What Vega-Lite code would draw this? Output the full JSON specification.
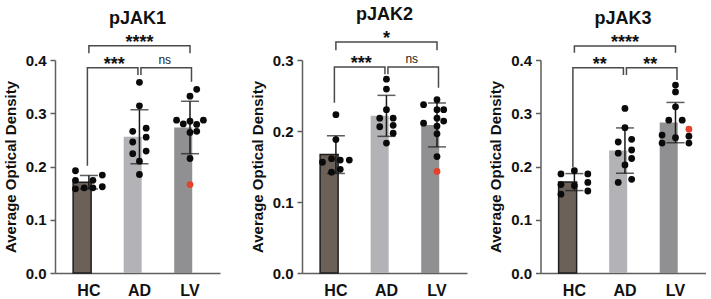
{
  "$schema": "https://vega.github.io/schema/vega-lite/v6.json",
  "padding": {"left": 3, "top": 5, "right": 2, "bottom": 2},
  "datasets": {
    "dots": [
      {"panel": "pJAK1", "group": "HC", "value": 0.192, "lane": -2, "marker": "regular"},
      {"panel": "pJAK1", "group": "HC", "value": 0.184, "lane": 2, "marker": "regular"},
      {"panel": "pJAK1", "group": "HC", "value": 0.174, "lane": -2, "marker": "regular"},
      {"panel": "pJAK1", "group": "HC", "value": 0.174, "lane": 0.6, "marker": "regular"},
      {"panel": "pJAK1", "group": "HC", "value": 0.158, "lane": -2, "marker": "regular"},
      {"panel": "pJAK1", "group": "HC", "value": 0.160, "lane": -0.7, "marker": "regular"},
      {"panel": "pJAK1", "group": "HC", "value": 0.160, "lane": 0.6, "marker": "regular"},
      {"panel": "pJAK1", "group": "HC", "value": 0.162, "lane": 2, "marker": "regular"},
      {"panel": "pJAK1", "group": "AD", "value": 0.358, "lane": 0, "marker": "regular"},
      {"panel": "pJAK1", "group": "AD", "value": 0.314, "lane": 0, "marker": "regular"},
      {"panel": "pJAK1", "group": "AD", "value": 0.266, "lane": -1, "marker": "regular"},
      {"panel": "pJAK1", "group": "AD", "value": 0.272, "lane": 1, "marker": "regular"},
      {"panel": "pJAK1", "group": "AD", "value": 0.246, "lane": -1, "marker": "regular"},
      {"panel": "pJAK1", "group": "AD", "value": 0.255, "lane": 1, "marker": "regular"},
      {"panel": "pJAK1", "group": "AD", "value": 0.224, "lane": -1, "marker": "regular"},
      {"panel": "pJAK1", "group": "AD", "value": 0.229, "lane": 1, "marker": "regular"},
      {"panel": "pJAK1", "group": "AD", "value": 0.210, "lane": 0, "marker": "regular"},
      {"panel": "pJAK1", "group": "AD", "value": 0.185, "lane": 0, "marker": "regular"},
      {"panel": "pJAK1", "group": "LV", "value": 0.345, "lane": 1, "marker": "regular"},
      {"panel": "pJAK1", "group": "LV", "value": 0.332, "lane": 0, "marker": "regular"},
      {"panel": "pJAK1", "group": "LV", "value": 0.287, "lane": -2, "marker": "regular"},
      {"panel": "pJAK1", "group": "LV", "value": 0.287, "lane": 2, "marker": "regular"},
      {"panel": "pJAK1", "group": "LV", "value": 0.280, "lane": -1, "marker": "regular"},
      {"panel": "pJAK1", "group": "LV", "value": 0.285, "lane": 0, "marker": "regular"},
      {"panel": "pJAK1", "group": "LV", "value": 0.279, "lane": 1, "marker": "regular"},
      {"panel": "pJAK1", "group": "LV", "value": 0.264, "lane": 0, "marker": "regular"},
      {"panel": "pJAK1", "group": "LV", "value": 0.266, "lane": 1, "marker": "regular"},
      {"panel": "pJAK1", "group": "LV", "value": 0.215, "lane": 0, "marker": "regular"},
      {"panel": "pJAK1", "group": "LV", "value": 0.166, "lane": 0, "marker": "outlier"},

      {"panel": "pJAK2", "group": "HC", "value": 0.223, "lane": 0, "marker": "regular"},
      {"panel": "pJAK2", "group": "HC", "value": 0.188, "lane": 0, "marker": "regular"},
      {"panel": "pJAK2", "group": "HC", "value": 0.156, "lane": -2, "marker": "regular"},
      {"panel": "pJAK2", "group": "HC", "value": 0.161, "lane": -0.65, "marker": "regular"},
      {"panel": "pJAK2", "group": "HC", "value": 0.159, "lane": 0.65, "marker": "regular"},
      {"panel": "pJAK2", "group": "HC", "value": 0.159, "lane": 2, "marker": "regular"},
      {"panel": "pJAK2", "group": "HC", "value": 0.142, "lane": -0.65, "marker": "regular"},
      {"panel": "pJAK2", "group": "HC", "value": 0.146, "lane": 0.65, "marker": "regular"},
      {"panel": "pJAK2", "group": "AD", "value": 0.273, "lane": 0, "marker": "regular"},
      {"panel": "pJAK2", "group": "AD", "value": 0.259, "lane": 0, "marker": "regular"},
      {"panel": "pJAK2", "group": "AD", "value": 0.230, "lane": 0, "marker": "regular"},
      {"panel": "pJAK2", "group": "AD", "value": 0.218, "lane": -1, "marker": "regular"},
      {"panel": "pJAK2", "group": "AD", "value": 0.218, "lane": 1, "marker": "regular"},
      {"panel": "pJAK2", "group": "AD", "value": 0.206, "lane": -1, "marker": "regular"},
      {"panel": "pJAK2", "group": "AD", "value": 0.208, "lane": 1, "marker": "regular"},
      {"panel": "pJAK2", "group": "AD", "value": 0.197, "lane": 1, "marker": "regular"},
      {"panel": "pJAK2", "group": "AD", "value": 0.183, "lane": 0, "marker": "regular"},
      {"panel": "pJAK2", "group": "LV", "value": 0.244, "lane": 0, "marker": "regular"},
      {"panel": "pJAK2", "group": "LV", "value": 0.237, "lane": -2, "marker": "regular"},
      {"panel": "pJAK2", "group": "LV", "value": 0.230, "lane": 0, "marker": "regular"},
      {"panel": "pJAK2", "group": "LV", "value": 0.230, "lane": 1, "marker": "regular"},
      {"panel": "pJAK2", "group": "LV", "value": 0.218, "lane": 0, "marker": "regular"},
      {"panel": "pJAK2", "group": "LV", "value": 0.214, "lane": 1, "marker": "regular"},
      {"panel": "pJAK2", "group": "LV", "value": 0.211, "lane": -2, "marker": "regular"},
      {"panel": "pJAK2", "group": "LV", "value": 0.207, "lane": 0, "marker": "regular"},
      {"panel": "pJAK2", "group": "LV", "value": 0.196, "lane": 0, "marker": "regular"},
      {"panel": "pJAK2", "group": "LV", "value": 0.164, "lane": 0, "marker": "regular"},
      {"panel": "pJAK2", "group": "LV", "value": 0.143, "lane": 0, "marker": "outlier"},

      {"panel": "pJAK3", "group": "HC", "value": 0.192, "lane": 0, "marker": "regular"},
      {"panel": "pJAK3", "group": "HC", "value": 0.186, "lane": -2, "marker": "regular"},
      {"panel": "pJAK3", "group": "HC", "value": 0.186, "lane": 2, "marker": "regular"},
      {"panel": "pJAK3", "group": "HC", "value": 0.166, "lane": -2, "marker": "regular"},
      {"panel": "pJAK3", "group": "HC", "value": 0.164, "lane": 0, "marker": "regular"},
      {"panel": "pJAK3", "group": "HC", "value": 0.170, "lane": 2, "marker": "regular"},
      {"panel": "pJAK3", "group": "HC", "value": 0.148, "lane": -2, "marker": "regular"},
      {"panel": "pJAK3", "group": "HC", "value": 0.154, "lane": 2, "marker": "regular"},
      {"panel": "pJAK3", "group": "AD", "value": 0.309, "lane": 0, "marker": "regular"},
      {"panel": "pJAK3", "group": "AD", "value": 0.273, "lane": 0, "marker": "regular"},
      {"panel": "pJAK3", "group": "AD", "value": 0.246, "lane": -1, "marker": "regular"},
      {"panel": "pJAK3", "group": "AD", "value": 0.251, "lane": 1, "marker": "regular"},
      {"panel": "pJAK3", "group": "AD", "value": 0.225, "lane": -1, "marker": "regular"},
      {"panel": "pJAK3", "group": "AD", "value": 0.231, "lane": 1, "marker": "regular"},
      {"panel": "pJAK3", "group": "AD", "value": 0.215, "lane": 1, "marker": "regular"},
      {"panel": "pJAK3", "group": "AD", "value": 0.203, "lane": 0, "marker": "regular"},
      {"panel": "pJAK3", "group": "AD", "value": 0.170, "lane": -1, "marker": "regular"},
      {"panel": "pJAK3", "group": "AD", "value": 0.176, "lane": 1, "marker": "regular"},
      {"panel": "pJAK3", "group": "LV", "value": 0.353, "lane": 0, "marker": "regular"},
      {"panel": "pJAK3", "group": "LV", "value": 0.340, "lane": 0, "marker": "regular"},
      {"panel": "pJAK3", "group": "LV", "value": 0.312, "lane": 0, "marker": "regular"},
      {"panel": "pJAK3", "group": "LV", "value": 0.287, "lane": -1, "marker": "regular"},
      {"panel": "pJAK3", "group": "LV", "value": 0.287, "lane": 1, "marker": "regular"},
      {"panel": "pJAK3", "group": "LV", "value": 0.270, "lane": 2, "marker": "outlier"},
      {"panel": "pJAK3", "group": "LV", "value": 0.259, "lane": -2, "marker": "regular"},
      {"panel": "pJAK3", "group": "LV", "value": 0.254, "lane": 0, "marker": "regular"},
      {"panel": "pJAK3", "group": "LV", "value": 0.257, "lane": 2, "marker": "regular"},
      {"panel": "pJAK3", "group": "LV", "value": 0.244, "lane": -2, "marker": "regular"},
      {"panel": "pJAK3", "group": "LV", "value": 0.244, "lane": 2, "marker": "regular"}
    ],
    "brackets": [
      {"panel": "pJAK1", "kind": "wide", "seq": 1, "group": "HC", "value": 0.4126},
      {"panel": "pJAK1", "kind": "wide", "seq": 2, "group": "HC", "value": 0.4269},
      {"panel": "pJAK1", "kind": "wide", "seq": 3, "group": "LV", "value": 0.4269},
      {"panel": "pJAK1", "kind": "wide", "seq": 4, "group": "LV", "value": 0.4126},
      {"panel": "pJAK1", "kind": "left", "seq": 1, "group": "HC", "value": 0.2012},
      {"panel": "pJAK1", "kind": "left", "seq": 2, "group": "HC", "value": 0.3855},
      {"panel": "pJAK1", "kind": "left", "seq": 3, "group": "AD", "value": 0.3855},
      {"panel": "pJAK1", "kind": "left", "seq": 4, "group": "AD", "value": 0.3718},
      {"panel": "pJAK1", "kind": "right", "seq": 1, "group": "AD", "value": 0.3718},
      {"panel": "pJAK1", "kind": "right", "seq": 2, "group": "AD", "value": 0.3855},
      {"panel": "pJAK1", "kind": "right", "seq": 3, "group": "LV", "value": 0.3855},
      {"panel": "pJAK1", "kind": "right", "seq": 4, "group": "LV", "value": 0.3592},

      {"panel": "pJAK2", "kind": "wide", "seq": 1, "group": "HC", "value": 0.3137},
      {"panel": "pJAK2", "kind": "wide", "seq": 2, "group": "HC", "value": 0.3255},
      {"panel": "pJAK2", "kind": "wide", "seq": 3, "group": "LV", "value": 0.3255},
      {"panel": "pJAK2", "kind": "wide", "seq": 4, "group": "LV", "value": 0.3137},
      {"panel": "pJAK2", "kind": "left", "seq": 1, "group": "HC", "value": 0.2397},
      {"panel": "pJAK2", "kind": "left", "seq": 2, "group": "HC", "value": 0.2901},
      {"panel": "pJAK2", "kind": "left", "seq": 3, "group": "AD", "value": 0.2901},
      {"panel": "pJAK2", "kind": "left", "seq": 4, "group": "AD", "value": 0.2798},
      {"panel": "pJAK2", "kind": "right", "seq": 1, "group": "AD", "value": 0.2798},
      {"panel": "pJAK2", "kind": "right", "seq": 2, "group": "AD", "value": 0.2901},
      {"panel": "pJAK2", "kind": "right", "seq": 3, "group": "LV", "value": 0.2901},
      {"panel": "pJAK2", "kind": "right", "seq": 4, "group": "LV", "value": 0.2609},

      {"panel": "pJAK3", "kind": "wide", "seq": 1, "group": "HC", "value": 0.4137},
      {"panel": "pJAK3", "kind": "wide", "seq": 2, "group": "HC", "value": 0.4263},
      {"panel": "pJAK3", "kind": "wide", "seq": 3, "group": "LV", "value": 0.4263},
      {"panel": "pJAK3", "kind": "wide", "seq": 4, "group": "LV", "value": 0.4137},
      {"panel": "pJAK3", "kind": "left", "seq": 1, "group": "HC", "value": 0.1988},
      {"panel": "pJAK3", "kind": "left", "seq": 2, "group": "HC", "value": 0.3855},
      {"panel": "pJAK3", "kind": "left", "seq": 3, "group": "AD", "value": 0.3855},
      {"panel": "pJAK3", "kind": "left", "seq": 4, "group": "AD", "value": 0.3718},
      {"panel": "pJAK3", "kind": "right", "seq": 1, "group": "AD", "value": 0.3718},
      {"panel": "pJAK3", "kind": "right", "seq": 2, "group": "AD", "value": 0.3855},
      {"panel": "pJAK3", "kind": "right", "seq": 3, "group": "LV", "value": 0.3855},
      {"panel": "pJAK3", "kind": "right", "seq": 4, "group": "LV", "value": 0.3624}
    ],
    "labels": [
      {"panel": "pJAK1", "kind": "wide", "group": "AD", "value": 0.4269, "label": "****"},
      {"panel": "pJAK1", "kind": "left", "group": "HC", "value": 0.3855, "label": "***"},
      {"panel": "pJAK1", "kind": "right", "group": "AD", "value": 0.3855, "label": "ns"},
      {"panel": "pJAK2", "kind": "wide", "group": "AD", "value": 0.3255, "label": "*"},
      {"panel": "pJAK2", "kind": "left", "group": "HC", "value": 0.2901, "label": "***"},
      {"panel": "pJAK2", "kind": "right", "group": "AD", "value": 0.2901, "label": "ns"},
      {"panel": "pJAK3", "kind": "wide", "group": "AD", "value": 0.4263, "label": "****"},
      {"panel": "pJAK3", "kind": "left", "group": "HC", "value": 0.3855, "label": "**"},
      {"panel": "pJAK3", "kind": "right", "group": "AD", "value": 0.3855, "label": "**"}
    ]
  },
  "config": {
    "view": {"stroke": null},
    "font": "Liberation Sans",
    "axis": {
      "grid": false,
      "domainColor": "#5e5e5e",
      "domainWidth": 1.5,
      "tickColor": "#5e5e5e",
      "tickWidth": 1.5,
      "labelFont": "Liberation Sans",
      "labelFontWeight": "bold",
      "labelColor": "#111111",
      "titleFont": "Liberation Sans",
      "titleFontWeight": "bold",
      "titleColor": "#111111"
    },
    "axisY": {"tickSize": 5, "labelFontSize": 15, "labelPadding": 4, "titleFontSize": 15, "titlePadding": 7},
    "axisX": {"ticks": false, "labelAngle": 0, "labelFontSize": 16, "labelPadding": 9},
    "title": {"font": "Liberation Sans", "fontSize": 18, "fontWeight": "bold", "color": "#111111", "offset": 6, "anchor": "middle"}
  },
  "spacing": 21.5,
  "hconcat": [
    {
      "spacing": 30,
      "hconcat": [
        {
          "width": 165,
          "height": 213,
          "title": "pJAK1",
          "data": {"name": "dots"},
          "encoding": {
            "x": {"field": "group", "type": "nominal", "sort": ["HC", "AD", "LV"], "scale": {"domain": ["HC", "AD", "LV"], "paddingInner": 0.376, "paddingOuter": 0.32, "align": 0.56}, "axis": {"title": null}},
            "y": {"field": "value", "type": "quantitative", "scale": {"domain": [0, 0.4], "nice": false}, "axis": {"title": "Average Optical Density", "values": [0, 0.1, 0.2, 0.3, 0.4], "format": ".1f"}}
          },
          "layer": [
            {
              "transform": [{"filter": "datum.panel === 'pJAK1'"}],
              "mark": {"type": "bar", "stroke": "#1e1e1e"},
              "encoding": {
                "y": {"aggregate": "mean", "field": "value", "type": "quantitative", "scale": {"domain": [0, 0.4], "nice": false}, "axis": {"title": "Average Optical Density", "values": [0, 0.1, 0.2, 0.3, 0.4], "format": ".1f"}},
                "color": {"field": "group", "type": "nominal", "scale": {"domain": ["HC", "AD", "LV"], "range": ["#6c6159", "#b3b3b7", "#909092"]}, "legend": null},
                "strokeWidth": {"condition": {"test": "datum.group === 'HC'", "value": 1.5}, "value": 0}
              }
            },
            {
              "transform": [{"filter": "datum.panel === 'pJAK1'"}],
              "mark": {"type": "errorbar", "extent": "stdev", "color": "#1a1a1a", "thickness": 1.5, "ticks": {"size": 18}}
            },
            {
              "transform": [{"filter": "datum.panel === 'pJAK1'"}],
              "mark": {"type": "circle", "size": 46, "opacity": 1},
              "encoding": {
                "xOffset": {"field": "lane", "type": "quantitative", "scale": {"domain": [-2.35, 2.35], "nice": false, "zero": false}},
                "color": {"condition": {"test": "datum.marker === 'outlier'", "value": "#e5412b"}, "value": "#0a0a0a"}
              }
            },
            {
              "data": {"name": "brackets"},
              "transform": [{"filter": "datum.panel === 'pJAK1' && datum.kind === 'wide'"}],
              "mark": {"type": "line", "color": "#4a4a4a", "strokeWidth": 1.5, "strokeJoin": "miter"},
              "encoding": {"order": {"field": "seq", "type": "quantitative"}}
            },
            {
              "data": {"name": "brackets"},
              "transform": [{"filter": "datum.panel === 'pJAK1' && datum.kind === 'left'"}],
              "mark": {"type": "line", "color": "#4a4a4a", "strokeWidth": 1.5, "strokeJoin": "miter", "xOffset": -1.5},
              "encoding": {"order": {"field": "seq", "type": "quantitative"}}
            },
            {
              "data": {"name": "brackets"},
              "transform": [{"filter": "datum.panel === 'pJAK1' && datum.kind === 'right'"}],
              "mark": {"type": "line", "color": "#4a4a4a", "strokeWidth": 1.5, "strokeJoin": "miter", "xOffset": 1.5},
              "encoding": {"order": {"field": "seq", "type": "quantitative"}}
            },
            {
              "data": {"name": "labels"},
              "transform": [{"filter": "datum.panel === 'pJAK1' && datum.kind === 'wide'"}],
              "mark": {"type": "text", "fontWeight": "bold", "fontSize": 18, "baseline": "alphabetic", "dy": 2, "color": "#111111"},
              "encoding": {"text": {"field": "label"}}
            },
            {
              "data": {"name": "labels"},
              "transform": [{"filter": "datum.panel === 'pJAK1' && datum.kind !== 'wide' && datum.label !== 'ns'"}],
              "mark": {"type": "text", "fontWeight": "bold", "fontSize": 18, "baseline": "alphabetic", "dy": 2, "dx": 25.3, "color": "#111111"},
              "encoding": {"text": {"field": "label"}}
            },
            {
              "data": {"name": "labels"},
              "transform": [{"filter": "datum.panel === 'pJAK1' && datum.label === 'ns'"}],
              "mark": {"type": "text", "fontWeight": "normal", "fontSize": 12, "baseline": "alphabetic", "dy": -4, "dx": 25.3, "color": "#222222"},
              "encoding": {"text": {"field": "label"}}
            }
          ]
        },
        {
          "width": 165,
          "height": 213,
          "title": "pJAK2",
          "data": {"name": "dots"},
          "encoding": {
            "x": {"field": "group", "type": "nominal", "sort": ["HC", "AD", "LV"], "scale": {"domain": ["HC", "AD", "LV"], "paddingInner": 0.376, "paddingOuter": 0.32, "align": 0.56}, "axis": {"title": null}},
            "y": {"field": "value", "type": "quantitative", "scale": {"domain": [0, 0.3], "nice": false}, "axis": {"title": "Average Optical Density", "values": [0, 0.1, 0.2, 0.3], "format": ".1f"}}
          },
          "layer": [
            {
              "transform": [{"filter": "datum.panel === 'pJAK2'"}],
              "mark": {"type": "bar", "stroke": "#1e1e1e"},
              "encoding": {
                "y": {"aggregate": "mean", "field": "value", "type": "quantitative", "scale": {"domain": [0, 0.3], "nice": false}, "axis": {"title": "Average Optical Density", "values": [0, 0.1, 0.2, 0.3], "format": ".1f"}},
                "color": {"field": "group", "type": "nominal", "scale": {"domain": ["HC", "AD", "LV"], "range": ["#6c6159", "#b3b3b7", "#909092"]}, "legend": null},
                "strokeWidth": {"condition": {"test": "datum.group === 'HC'", "value": 1.5}, "value": 0}
              }
            },
            {
              "transform": [{"filter": "datum.panel === 'pJAK2'"}],
              "mark": {"type": "errorbar", "extent": "stdev", "color": "#1a1a1a", "thickness": 1.5, "ticks": {"size": 18}}
            },
            {
              "transform": [{"filter": "datum.panel === 'pJAK2'"}],
              "mark": {"type": "circle", "size": 46, "opacity": 1},
              "encoding": {
                "xOffset": {"field": "lane", "type": "quantitative", "scale": {"domain": [-2.35, 2.35], "nice": false, "zero": false}},
                "color": {"condition": {"test": "datum.marker === 'outlier'", "value": "#e5412b"}, "value": "#0a0a0a"}
              }
            },
            {
              "data": {"name": "brackets"},
              "transform": [{"filter": "datum.panel === 'pJAK2' && datum.kind === 'wide'"}],
              "mark": {"type": "line", "color": "#4a4a4a", "strokeWidth": 1.5, "strokeJoin": "miter"},
              "encoding": {"order": {"field": "seq", "type": "quantitative"}}
            },
            {
              "data": {"name": "brackets"},
              "transform": [{"filter": "datum.panel === 'pJAK2' && datum.kind === 'left'"}],
              "mark": {"type": "line", "color": "#4a4a4a", "strokeWidth": 1.5, "strokeJoin": "miter", "xOffset": -1.5},
              "encoding": {"order": {"field": "seq", "type": "quantitative"}}
            },
            {
              "data": {"name": "brackets"},
              "transform": [{"filter": "datum.panel === 'pJAK2' && datum.kind === 'right'"}],
              "mark": {"type": "line", "color": "#4a4a4a", "strokeWidth": 1.5, "strokeJoin": "miter", "xOffset": 1.5},
              "encoding": {"order": {"field": "seq", "type": "quantitative"}}
            },
            {
              "data": {"name": "labels"},
              "transform": [{"filter": "datum.panel === 'pJAK2' && datum.kind === 'wide'"}],
              "mark": {"type": "text", "fontWeight": "bold", "fontSize": 18, "baseline": "alphabetic", "dy": 2, "color": "#111111"},
              "encoding": {"text": {"field": "label"}}
            },
            {
              "data": {"name": "labels"},
              "transform": [{"filter": "datum.panel === 'pJAK2' && datum.kind !== 'wide' && datum.label !== 'ns'"}],
              "mark": {"type": "text", "fontWeight": "bold", "fontSize": 18, "baseline": "alphabetic", "dy": 2, "dx": 25.3, "color": "#111111"},
              "encoding": {"text": {"field": "label"}}
            },
            {
              "data": {"name": "labels"},
              "transform": [{"filter": "datum.panel === 'pJAK2' && datum.label === 'ns'"}],
              "mark": {"type": "text", "fontWeight": "normal", "fontSize": 12, "baseline": "alphabetic", "dy": -4, "dx": 25.3, "color": "#222222"},
              "encoding": {"text": {"field": "label"}}
            }
          ]
        }
      ]
    },
    {
      "width": 165,
      "height": 213,
      "title": "pJAK3",
      "data": {"name": "dots"},
      "encoding": {
        "x": {"field": "group", "type": "nominal", "sort": ["HC", "AD", "LV"], "scale": {"domain": ["HC", "AD", "LV"], "paddingInner": 0.376, "paddingOuter": 0.32, "align": 0.56}, "axis": {"title": null}},
        "y": {"field": "value", "type": "quantitative", "scale": {"domain": [0, 0.4], "nice": false}, "axis": {"title": "Average Optical Density", "values": [0, 0.1, 0.2, 0.3, 0.4], "format": ".1f"}}
      },
      "layer": [
        {
          "transform": [{"filter": "datum.panel === 'pJAK3'"}],
          "mark": {"type": "bar", "stroke": "#1e1e1e"},
          "encoding": {
            "y": {"aggregate": "mean", "field": "value", "type": "quantitative", "scale": {"domain": [0, 0.4], "nice": false}, "axis": {"title": "Average Optical Density", "values": [0, 0.1, 0.2, 0.3, 0.4], "format": ".1f"}},
            "color": {"field": "group", "type": "nominal", "scale": {"domain": ["HC", "AD", "LV"], "range": ["#6c6159", "#b3b3b7", "#909092"]}, "legend": null},
            "strokeWidth": {"condition": {"test": "datum.group === 'HC'", "value": 1.5}, "value": 0}
          }
        },
        {
          "transform": [{"filter": "datum.panel === 'pJAK3'"}],
          "mark": {"type": "errorbar", "extent": "stdev", "color": "#1a1a1a", "thickness": 1.5, "ticks": {"size": 18}}
        },
        {
          "transform": [{"filter": "datum.panel === 'pJAK3'"}],
          "mark": {"type": "circle", "size": 46, "opacity": 1},
          "encoding": {
            "xOffset": {"field": "lane", "type": "quantitative", "scale": {"domain": [-2.35, 2.35], "nice": false, "zero": false}},
            "color": {"condition": {"test": "datum.marker === 'outlier'", "value": "#e5412b"}, "value": "#0a0a0a"}
          }
        },
        {
          "data": {"name": "brackets"},
          "transform": [{"filter": "datum.panel === 'pJAK3' && datum.kind === 'wide'"}],
          "mark": {"type": "line", "color": "#4a4a4a", "strokeWidth": 1.5, "strokeJoin": "miter"},
          "encoding": {"order": {"field": "seq", "type": "quantitative"}}
        },
        {
          "data": {"name": "brackets"},
          "transform": [{"filter": "datum.panel === 'pJAK3' && datum.kind === 'left'"}],
          "mark": {"type": "line", "color": "#4a4a4a", "strokeWidth": 1.5, "strokeJoin": "miter", "xOffset": -1.5},
          "encoding": {"order": {"field": "seq", "type": "quantitative"}}
        },
        {
          "data": {"name": "brackets"},
          "transform": [{"filter": "datum.panel === 'pJAK3' && datum.kind === 'right'"}],
          "mark": {"type": "line", "color": "#4a4a4a", "strokeWidth": 1.5, "strokeJoin": "miter", "xOffset": 1.5},
          "encoding": {"order": {"field": "seq", "type": "quantitative"}}
        },
        {
          "data": {"name": "labels"},
          "transform": [{"filter": "datum.panel === 'pJAK3' && datum.kind === 'wide'"}],
          "mark": {"type": "text", "fontWeight": "bold", "fontSize": 18, "baseline": "alphabetic", "dy": 2, "color": "#111111"},
          "encoding": {"text": {"field": "label"}}
        },
        {
          "data": {"name": "labels"},
          "transform": [{"filter": "datum.panel === 'pJAK3' && datum.kind !== 'wide'"}],
          "mark": {"type": "text", "fontWeight": "bold", "fontSize": 18, "baseline": "alphabetic", "dy": 2, "dx": 25.3, "color": "#111111"},
          "encoding": {"text": {"field": "label"}}
        }
      ]
    }
  ]
}
